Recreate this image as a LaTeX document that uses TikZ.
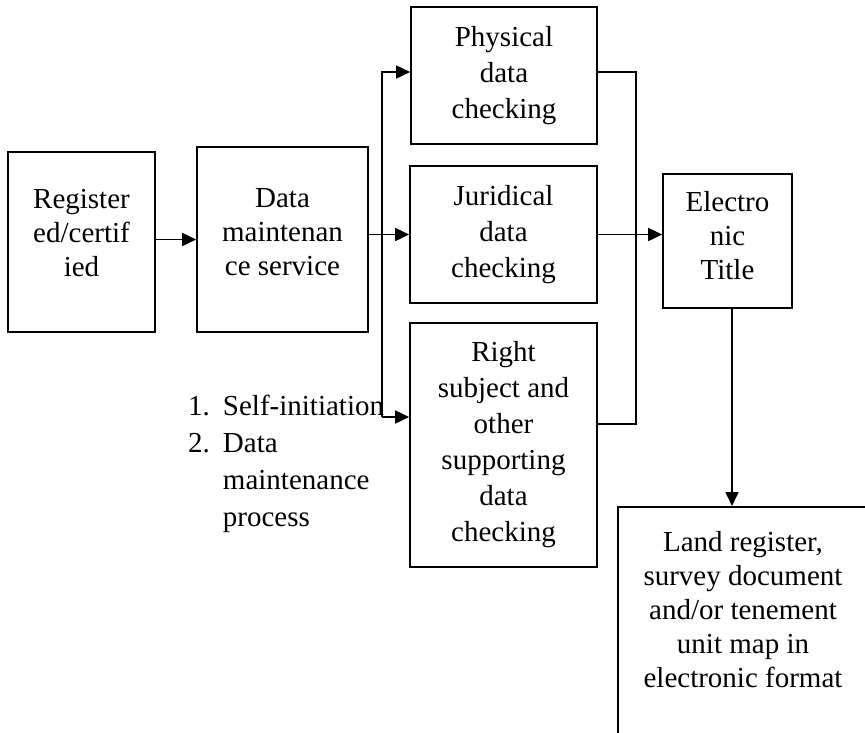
\documentclass[tikz,border=0pt]{standalone}
\usepackage{fontspec}
\setmainfont{Liberation Serif}
\usetikzlibrary{arrows.meta}

\tikzset{
  stage/.style={draw, line width=1.6pt, inner sep=0pt, align=center,
    font=\fontsize{29}{36}\selectfont},
  flow/.style={line width=1.6pt, -{Triangle[length=14pt,width=13pt]}},
  link/.style={line width=1.6pt}
}

\begin{document}
\begin{tikzpicture}[x=1pt,y=-1pt]
    \useasboundingbox (0,0) rectangle (865,732);
    \clip (0,0) rectangle (865,732);
    % boxes
    \node[stage, minimum width=147pt, minimum height=180pt, font=\fontsize{29}{34}\selectfont] (reg) at (81.5,242)
        {\begin{tabular}{@{}c@{}}Register\\ed/certif\\ied\\[12pt]\end{tabular}};
    \node[stage, minimum width=171pt, minimum height=185pt, font=\fontsize{29}{34}\selectfont] (dm) at (282.5,239.5)
        {\begin{tabular}{@{}c@{}}Data\\maintenan\\ce service\\[10pt]\end{tabular}};
    \node[stage, minimum width=186pt, minimum height=137pt] (phys) at (504,75.5) {Physical\\data\\checking};
    \node[stage, minimum width=187pt, minimum height=137pt] (jur) at (503.5,234.5) {Juridical\\data\\checking};
    \node[stage, minimum width=187pt, minimum height=244pt] (rs) at (503.5,445) {Right\\subject and\\other\\supporting\\data\\checking};
    \node[stage, minimum width=129pt, minimum height=134pt, font=\fontsize{29}{34}\selectfont] (elec) at (727.5,241)
        {\begin{tabular}{@{}c@{}}Electro\\nic\\Title\\[4pt]\end{tabular}};
    \node[stage, minimum width=252pt, minimum height=260pt, anchor=north west] (land) at (617,506) {};
    \node[align=center, inner sep=0pt, anchor=north, font=\fontsize{29}{34}\selectfont] (landtext) at (743,531)
        {Land register,\\survey document\\and/or tenement\\unit map in\\electronic format};
    \node[anchor=north west, inner sep=0pt, font=\fontsize{29}{37}\selectfont] (steps) at (188,389)
        {\begin{tabular}{@{}l@{\hspace{13pt}}l@{}}1. & Self-initiation\\ 2. & Data\\ & maintenance\\ & process\end{tabular}};
    % connectors
    \coordinate (fork) at ([xshift=-27pt, yshift=28pt]rs.west);
    \draw[flow] (dm.west -| reg.east) -- (dm.west);
    \draw[flow] (jur.west -| dm.east) -- (jur.west);
    \draw[flow] (fork) |- ([yshift=3.5pt]phys.west);
    \draw[flow] (fork) -- ([yshift=28pt]rs.west);
    \draw[link] ([yshift=3.5pt]phys.east) -- ++(38,0) |- ([yshift=21pt]rs.east);
    \draw[flow] (jur.east) -- (elec.west |- jur.east);
    \draw[flow] ([xshift=4.5pt]elec.south) -- ([xshift=4.5pt]elec.south |- land.north);
\end{tikzpicture}
\end{document}
